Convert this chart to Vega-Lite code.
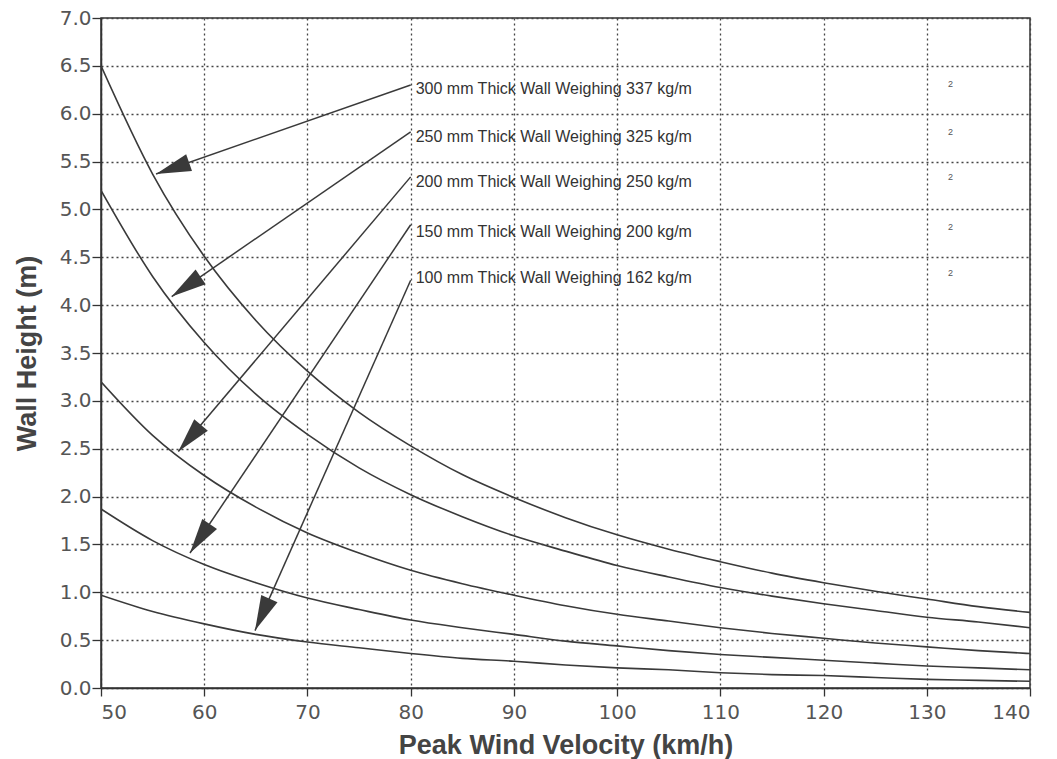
{
  "$schema": "https://vega.github.io/schema/vega-lite/v6.json",
  "width": 929,
  "height": 670,
  "autosize": {"type": "none"},
  "padding": {"left": 101, "top": 18, "right": 27, "bottom": 71},
  "background": "white",
  "config": {
    "view": {"stroke": "#333", "strokeWidth": 1.5},
    "axis": {
      "grid": true,
      "gridDash": [2, 3],
      "gridColor": "#444",
      "gridWidth": 1.3,
      "domainColor": "#333",
      "domainWidth": 1.5,
      "tickColor": "#333",
      "tickWidth": 1.3,
      "labelFont": "DejaVu Sans",
      "labelFontSize": 20,
      "labelColor": "#555",
      "titleFont": "Liberation Sans",
      "titleFontWeight": "bold",
      "titleFontSize": 27,
      "titleColor": "#444"
    }
  },
  "datasets": {
    "curves": [
      {"wall": "300 mm", "v": 50, "h": 6.50}, {"wall": "300 mm", "v": 55, "h": 5.37}, {"wall": "300 mm", "v": 60, "h": 4.51}, {"wall": "300 mm", "v": 65, "h": 3.84}, {"wall": "300 mm", "v": 70, "h": 3.31}, {"wall": "300 mm", "v": 75, "h": 2.88}, {"wall": "300 mm", "v": 80, "h": 2.53}, {"wall": "300 mm", "v": 85, "h": 2.23}, {"wall": "300 mm", "v": 90, "h": 1.99}, {"wall": "300 mm", "v": 95, "h": 1.78}, {"wall": "300 mm", "v": 100, "h": 1.60}, {"wall": "300 mm", "v": 105, "h": 1.45}, {"wall": "300 mm", "v": 110, "h": 1.32}, {"wall": "300 mm", "v": 115, "h": 1.20}, {"wall": "300 mm", "v": 120, "h": 1.10}, {"wall": "300 mm", "v": 125, "h": 1.01}, {"wall": "300 mm", "v": 130, "h": 0.93}, {"wall": "300 mm", "v": 135, "h": 0.85}, {"wall": "300 mm", "v": 140, "h": 0.79},
      {"wall": "250 mm", "v": 50, "h": 5.20}, {"wall": "250 mm", "v": 55, "h": 4.30}, {"wall": "250 mm", "v": 60, "h": 3.61}, {"wall": "250 mm", "v": 65, "h": 3.07}, {"wall": "250 mm", "v": 70, "h": 2.65}, {"wall": "250 mm", "v": 75, "h": 2.30}, {"wall": "250 mm", "v": 80, "h": 2.02}, {"wall": "250 mm", "v": 85, "h": 1.79}, {"wall": "250 mm", "v": 90, "h": 1.59}, {"wall": "250 mm", "v": 95, "h": 1.43}, {"wall": "250 mm", "v": 100, "h": 1.28}, {"wall": "250 mm", "v": 105, "h": 1.16}, {"wall": "250 mm", "v": 110, "h": 1.05}, {"wall": "250 mm", "v": 115, "h": 0.96}, {"wall": "250 mm", "v": 120, "h": 0.88}, {"wall": "250 mm", "v": 125, "h": 0.81}, {"wall": "250 mm", "v": 130, "h": 0.74}, {"wall": "250 mm", "v": 135, "h": 0.69}, {"wall": "250 mm", "v": 140, "h": 0.63},
      {"wall": "200 mm", "v": 50, "h": 3.20}, {"wall": "200 mm", "v": 55, "h": 2.64}, {"wall": "200 mm", "v": 60, "h": 2.22}, {"wall": "200 mm", "v": 65, "h": 1.89}, {"wall": "200 mm", "v": 70, "h": 1.62}, {"wall": "200 mm", "v": 75, "h": 1.41}, {"wall": "200 mm", "v": 80, "h": 1.23}, {"wall": "200 mm", "v": 85, "h": 1.09}, {"wall": "200 mm", "v": 90, "h": 0.97}, {"wall": "200 mm", "v": 95, "h": 0.86}, {"wall": "200 mm", "v": 100, "h": 0.77}, {"wall": "200 mm", "v": 105, "h": 0.70}, {"wall": "200 mm", "v": 110, "h": 0.63}, {"wall": "200 mm", "v": 115, "h": 0.57}, {"wall": "200 mm", "v": 120, "h": 0.52}, {"wall": "200 mm", "v": 125, "h": 0.47}, {"wall": "200 mm", "v": 130, "h": 0.43}, {"wall": "200 mm", "v": 135, "h": 0.39}, {"wall": "200 mm", "v": 140, "h": 0.36},
      {"wall": "150 mm", "v": 50, "h": 1.87}, {"wall": "150 mm", "v": 55, "h": 1.54}, {"wall": "150 mm", "v": 60, "h": 1.29}, {"wall": "150 mm", "v": 65, "h": 1.10}, {"wall": "150 mm", "v": 70, "h": 0.94}, {"wall": "150 mm", "v": 75, "h": 0.82}, {"wall": "150 mm", "v": 80, "h": 0.71}, {"wall": "150 mm", "v": 85, "h": 0.63}, {"wall": "150 mm", "v": 90, "h": 0.56}, {"wall": "150 mm", "v": 95, "h": 0.49}, {"wall": "150 mm", "v": 100, "h": 0.44}, {"wall": "150 mm", "v": 105, "h": 0.39}, {"wall": "150 mm", "v": 110, "h": 0.35}, {"wall": "150 mm", "v": 115, "h": 0.32}, {"wall": "150 mm", "v": 120, "h": 0.29}, {"wall": "150 mm", "v": 125, "h": 0.26}, {"wall": "150 mm", "v": 130, "h": 0.23}, {"wall": "150 mm", "v": 135, "h": 0.21}, {"wall": "150 mm", "v": 140, "h": 0.19},
      {"wall": "100 mm", "v": 50, "h": 0.97}, {"wall": "100 mm", "v": 55, "h": 0.80}, {"wall": "100 mm", "v": 60, "h": 0.67}, {"wall": "100 mm", "v": 65, "h": 0.56}, {"wall": "100 mm", "v": 70, "h": 0.48}, {"wall": "100 mm", "v": 75, "h": 0.42}, {"wall": "100 mm", "v": 80, "h": 0.36}, {"wall": "100 mm", "v": 85, "h": 0.31}, {"wall": "100 mm", "v": 90, "h": 0.28}, {"wall": "100 mm", "v": 95, "h": 0.24}, {"wall": "100 mm", "v": 100, "h": 0.21}, {"wall": "100 mm", "v": 105, "h": 0.19}, {"wall": "100 mm", "v": 110, "h": 0.16}, {"wall": "100 mm", "v": 115, "h": 0.14}, {"wall": "100 mm", "v": 120, "h": 0.13}, {"wall": "100 mm", "v": 125, "h": 0.11}, {"wall": "100 mm", "v": 130, "h": 0.09}, {"wall": "100 mm", "v": 135, "h": 0.08}, {"wall": "100 mm", "v": 140, "h": 0.07}
    ],
    "notes": [
      {"thick": 300, "label": "300 mm Thick Wall Weighing 337 kg/m", "x0": 80, "y0": 6.30, "x1": 55.33, "y1": 5.37, "ty": 6.26},
      {"thick": 250, "label": "250 mm Thick Wall Weighing 325 kg/m", "x0": 80, "y0": 5.81, "x1": 56.85, "y1": 4.09, "ty": 5.76},
      {"thick": 200, "label": "200 mm Thick Wall Weighing 250 kg/m", "x0": 80, "y0": 5.34, "x1": 57.49, "y1": 2.47, "ty": 5.29},
      {"thick": 150, "label": "150 mm Thick Wall Weighing 200 kg/m", "x0": 80, "y0": 4.84, "x1": 58.62, "y1": 1.41, "ty": 4.76},
      {"thick": 100, "label": "100 mm Thick Wall Weighing 162 kg/m", "x0": 80, "y0": 4.26, "x1": 64.92, "y1": 0.60, "ty": 4.28}
    ]
  },
  "layer": [
    {
      "data": {"name": "curves"},
      "mark": {"type": "line", "color": "#3a3a3a", "strokeWidth": 1.6, "interpolate": "monotone", "clip": true},
      "encoding": {
        "x": {
          "field": "v", "type": "quantitative",
          "scale": {"domain": [50, 140], "nice": false, "zero": false},
          "axis": {
            "values": [50, 60, 70, 80, 90, 100, 110, 120, 130, 140],
            "tickSize": 8, "labelPadding": 6,
            "title": "Peak Wind Velocity (km/h)",
            "titleY": 44, "titleBaseline": "top"
          }
        },
        "y": {
          "field": "h", "type": "quantitative",
          "scale": {"domain": [0, 7], "nice": false},
          "axis": {
            "values": [0, 0.5, 1, 1.5, 2, 2.5, 3, 3.5, 4, 4.5, 5, 5.5, 6, 6.5, 7],
            "format": ".1f",
            "tickSize": 9, "labelPadding": 1,
            "title": "Wall Height (m)",
            "titleX": -74, "titleBaseline": "middle", "titleAngle": -90
          }
        },
        "detail": {"field": "wall"}
      }
    },
    {
      "data": {"name": "notes"},
      "mark": {"type": "rule", "color": "#3a3a3a", "strokeWidth": 1.5},
      "encoding": {
        "x": {"field": "x0", "type": "quantitative"},
        "y": {"field": "y0", "type": "quantitative"},
        "x2": {"field": "x1"},
        "y2": {"field": "y1"}
      }
    },
    {
      "data": {"name": "notes"},
      "mark": {"type": "point", "shape": "M0,0L0.51,2L-0.51,2Z", "filled": true, "color": "#3a3a3a", "opacity": 1, "size": 1225, "strokeWidth": 0},
      "encoding": {
        "x": {"field": "x1", "type": "quantitative"},
        "y": {"field": "y1", "type": "quantitative"},
        "angle": {
          "field": "thick", "type": "quantitative",
          "scale": {"type": "threshold", "domain": [125, 175, 225, 275], "range": [204.2, 214.2, 220.5, 235.7, 250.9]},
          "legend": null
        }
      }
    },
    {
      "data": {"name": "notes"},
      "mark": {"type": "text", "align": "left", "baseline": "middle", "dx": 5, "font": "Liberation Sans", "fontSize": 16, "color": "#333"},
      "encoding": {
        "x": {"field": "x0", "type": "quantitative"},
        "y": {"field": "ty", "type": "quantitative"},
        "text": {"field": "label"}
      }
    },
    {
      "data": {"name": "notes"},
      "mark": {"type": "text", "align": "center", "baseline": "middle", "dy": -5, "font": "Liberation Sans", "fontSize": 9, "color": "#555", "text": "2"},
      "encoding": {
        "x": {"datum": 132.3, "type": "quantitative"},
        "y": {"field": "ty", "type": "quantitative"}
      }
    }
  ]
}
